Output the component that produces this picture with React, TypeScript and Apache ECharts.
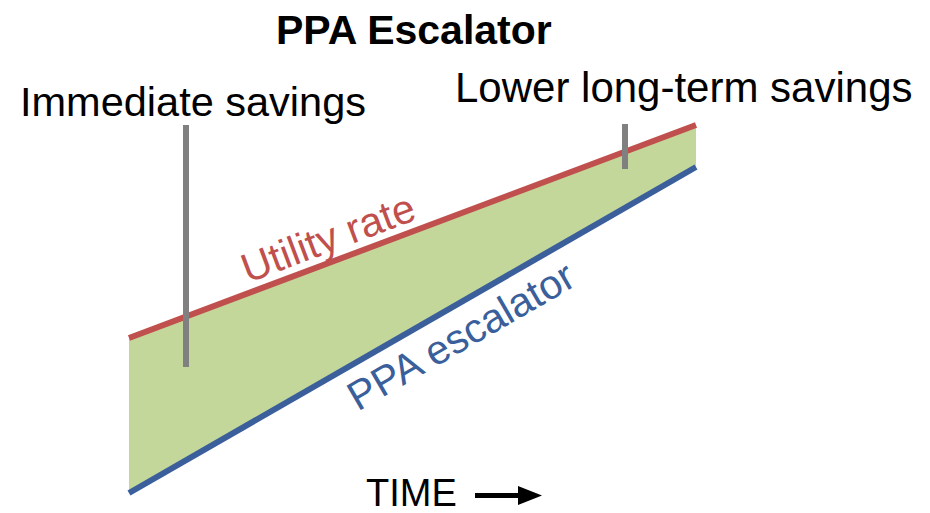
import React, { useEffect, useRef } from "react";
import * as echarts from "echarts";

// Time axis (years), start and end of contract
const timeYears = [0, 20];
// Rates (arbitrary units)
const utilityRate = [40.5, 93.75];
const ppaEscalator = [1.75, 83.25];

// Annotation markers: [x, yTop, yBottom]
const immediateMarker = [2, 93.75, 33.25];
const longTermMarker = [17.5, 94, 82.75];

const titleText = "PPA Escalator";
const immediateLabel = "Immediate savings";
const longTermLabel = "Lower long-term savings";
const utilityLabel = "Utility rate";
const ppaLabel = "PPA escalator";
const timeLabel = "TIME";

const FONT = '"Liberation Sans", Arial, Helvetica, sans-serif';

export default function App() {
  const ref = useRef<HTMLDivElement>(null);
  useEffect(() => {
    document.body.style.margin = "0";
    if (!ref.current) return;
    const chart = echarts.init(ref.current, null, { renderer: "svg" });
    const ppaData = timeYears.map((t, i) => [t, ppaEscalator[i]]);
    const utilData = timeYears.map((t, i) => [t, utilityRate[i]]);
    const option: any = {
      animation: false,
      backgroundColor: "#ffffff",
      title: {
        text: titleText,
        left: 271,
        top: 4,
        textStyle: { fontFamily: FONT, fontWeight: "bold", fontSize: 41, color: "#000" },
      },
      grid: { left: 129, right: 234, top: 100, bottom: 13 },
      xAxis: { type: "value", min: 0, max: 20, show: false },
      yAxis: { type: "value", min: 0, max: 100, show: false },
      series: [
        {
          name: "Utility rate",
          type: "line",
          data: utilData,
          symbol: "none",
          z: 4,
          lineStyle: { color: "#C0504D", width: 6 },
          areaStyle: { color: "#C4D79B", opacity: 1, origin: "start" },
        },
        {
          name: "PPA escalator",
          type: "line",
          data: ppaData,
          symbol: "none",
          z: 5,
          lineStyle: { color: "#3A5F9B", width: 6 },
          areaStyle: { color: "#ffffff", opacity: 1, origin: "start" },
        },
        {
          name: "markers",
          type: "line",
          data: [],
          z: 10,
          markLine: {
            silent: true,
            symbol: "none",
            label: { show: false },
            lineStyle: { color: "#808080", width: 6, type: "solid" },
            data: [
              [
                { coord: [immediateMarker[0], immediateMarker[1]] },
                { coord: [immediateMarker[0], immediateMarker[2]] },
              ],
              [
                { coord: [longTermMarker[0], longTermMarker[1]] },
                { coord: [longTermMarker[0], longTermMarker[2]] },
              ],
            ],
          },
        },
      ],
      graphic: [
        {
          type: "text",
          z: 100,
          x: 20,
          y: 101,
          style: { text: immediateLabel, fill: "#000", fontSize: 41.5, fontFamily: FONT, align: "left", verticalAlign: "middle" },
        },
        {
          type: "text",
          z: 100,
          x: 455,
          y: 87,
          style: { text: longTermLabel, fill: "#000", fontSize: 42, fontFamily: FONT, align: "left", verticalAlign: "middle" },
        },
        {
          type: "text",
          z: 100,
          x: 328,
          y: 238,
          rotation: (20.6 * Math.PI) / 180,
          style: { text: utilityLabel, fill: "#C0504D", fontSize: 41, fontFamily: FONT, align: "center", verticalAlign: "middle" },
        },
        {
          type: "text",
          z: 100,
          x: 461,
          y: 336,
          rotation: (30 * Math.PI) / 180,
          style: { text: ppaLabel, fill: "#3A5F9B", fontSize: 41, fontFamily: FONT, align: "center", verticalAlign: "middle" },
        },
        {
          type: "text",
          z: 100,
          x: 366,
          y: 493,
          style: { text: timeLabel, fill: "#000", fontSize: 38, fontFamily: FONT, align: "left", verticalAlign: "middle" },
        },
        {
          type: "rect",
          z: 100,
          shape: { x: 475, y: 493, width: 46, height: 5 },
          style: { fill: "#000" },
        },
        {
          type: "polygon",
          z: 100,
          shape: { points: [[518, 486], [542, 495.5], [518, 505]] },
          style: { fill: "#000" },
        },
      ],
    };
    chart.setOption(option);
    return () => chart.dispose();
  }, []);
  return <div ref={ref} style={{ width: 930, height: 513 }} />;
}
